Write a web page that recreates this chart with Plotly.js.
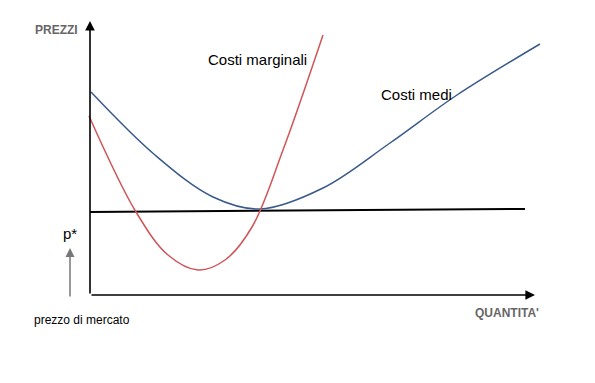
<!DOCTYPE html>
<html>
<head>
<meta charset="utf-8">
<script src="https://cdn.plot.ly/plotly-3.0.1.min.js"></script>
<style>html,body{margin:0;padding:0;background:#fff;}#chart{width:595px;height:383px;}</style>
</head>
<body>
<div id="chart"></div>
<script>
// Quantity / price values (origin at the axes' corner)
const avgCostQ = [1, 65, 123, 170, 233, 300, 367, 450];
const avgCostP = [203, 140, 98, 86, 107, 152, 200, 251];
const margCostQ = [-1, 46, 78, 108, 135, 162, 193, 233];
const margCostP = [179, 83, 40, 25, 35, 68, 145, 260];
const priceQ = [0, 435];
const priceP = [83, 86];

const labelAvg = "Costi medi";
const labelMarg = "Costi marginali";

const traces = [
  {x: priceQ, y: priceP, mode: "lines", line: {color: "#000000", width: 2}, hoverinfo: "skip"},
  {x: avgCostQ, y: avgCostP, mode: "lines", line: {color: "#3a5a8c", width: 1.5, shape: "spline", smoothing: 1}, name: labelAvg},
  {x: margCostQ, y: margCostP, mode: "lines", line: {color: "#cf5558", width: 1.5, shape: "spline", smoothing: 1}, name: labelMarg}
];

const font = "Liberation Sans, Arial, sans-serif";
const annotations = [
  // axes arrows
  {x: 0, y: 274, ax: 0, ay: 0, xref: "x", yref: "y", axref: "x", ayref: "y", showarrow: true, arrowhead: 2, arrowsize: 1.2, arrowwidth: 1.6, arrowcolor: "#000", text: ""},
  {x: 445, y: 0, ax: 0, ay: 0, xref: "x", yref: "y", axref: "x", ayref: "y", showarrow: true, arrowhead: 2, arrowsize: 1.2, arrowwidth: 1.6, arrowcolor: "#000", text: ""},
  // market price arrow
  {x: -20, y: 47, ax: -20, ay: -3, xref: "x", yref: "y", axref: "x", ayref: "y", showarrow: true, arrowhead: 2, arrowsize: 1.2, arrowwidth: 1.5, arrowcolor: "#777", text: ""},
  {x: -34, y: 265, text: "<b>PREZZI</b>", showarrow: false, font: {family: font, size: 12, color: "#666"}},
  {x: 417, y: -18, text: "<b>QUANTITA'</b>", showarrow: false, font: {family: font, size: 12, color: "#666"}},
  {x: 167, y: 236, text: labelMarg, showarrow: false, font: {family: font, size: 15, color: "#000"}},
  {x: 326, y: 201, text: labelAvg, showarrow: false, font: {family: font, size: 15, color: "#000"}},
  {x: -20, y: 62, text: "p*", showarrow: false, font: {family: font, size: 15, color: "#000"}},
  {x: -8, y: -25, text: "prezzo di mercato", showarrow: false, font: {family: font, size: 12, color: "#000"}}
];

const layout = {
  width: 595, height: 383,
  margin: {l: 0, r: 0, t: 0, b: 0},
  paper_bgcolor: "#fff", plot_bgcolor: "#fff",
  showlegend: false,
  xaxis: {range: [-90, 505], visible: false, fixedrange: true},
  yaxis: {range: [-88, 295], visible: false, fixedrange: true},
  annotations: annotations
};

Plotly.newPlot("chart", traces, layout, {displayModeBar: false, staticPlot: true});
</script>
</body>
</html>
